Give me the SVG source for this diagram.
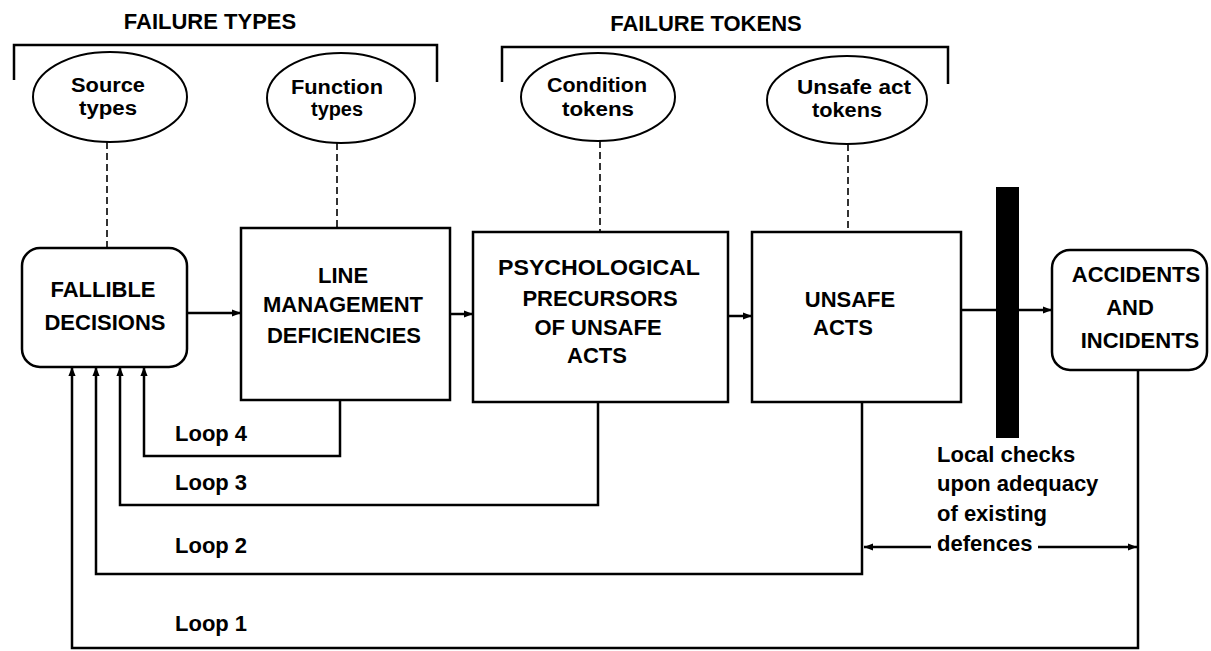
<svg xmlns="http://www.w3.org/2000/svg" width="1211" height="651" viewBox="0 0 1211 651">
  <style>
    .box { fill: #fff; stroke: #000; stroke-width: 2.5; }
    .oval { fill: #fff; stroke: #000; stroke-width: 2; }
    .lbl { font-family: "Liberation Sans", Arial, Helvetica, sans-serif; font-weight: bold; font-size: 22px; fill: #000; }
    .small { font-size: 20px; }
    .mid { text-anchor: middle; }
    .wire { fill: none; stroke: #000; stroke-width: 2.5; }
    .tie { fill: none; stroke: #333; stroke-width: 2; stroke-dasharray: 7 4; }
    .brace { fill: none; stroke: #000; stroke-width: 2.5; }
  </style>
  <defs>
    <marker id="ah" viewBox="0 0 10 10" refX="10" refY="5" markerWidth="9" markerHeight="9" markerUnits="userSpaceOnUse" orient="auto">
      <path d="M0,1 L10,5 L0,9 z" fill="#000"/>
    </marker>
  </defs>
  <rect width="1211" height="651" fill="#fff"/>

  <!-- category brackets with their headings -->
  <g id="failure-types">
    <text class="lbl mid" x="210" y="29">FAILURE TYPES</text>
    <path class="brace" d="M14,80 V45 H437 V82"/>
  </g>
  <g id="failure-tokens">
    <text class="lbl mid" x="706" y="31">FAILURE TOKENS</text>
    <path class="brace" d="M502,82 V47 H948 V84"/>
  </g>

  <!-- connectors -->
  <g id="connectors">
    <!-- dashed ties from the type/token ovals to the stages -->
    <path class="tie" d="M107,142 V248"/>
    <path class="tie" d="M337,143 V228"/>
    <path class="tie" d="M600,141 V232"/>
    <path class="tie" d="M848,144 V232"/>
    <!-- main chain -->
    <path class="wire" d="M187,313 H241" marker-end="url(#ah)"/>
    <path class="wire" d="M450,314 H473" marker-end="url(#ah)"/>
    <path class="wire" d="M728,316 H752" marker-end="url(#ah)"/>
    <path class="wire" d="M961,310 H1052" marker-end="url(#ah)"/>
    <!-- feedback loops back to fallible decisions -->
    <path class="wire" d="M340,400 V456 H144 V367" marker-end="url(#ah)"/>
    <path class="wire" d="M598,402 V505 H120 V367" marker-end="url(#ah)"/>
    <path class="wire" d="M862,402 V574 H96 V367" marker-end="url(#ah)"/>
    <path class="wire" d="M1138,370 V648 H72 V367" marker-end="url(#ah)"/>
    <!-- local checks span -->
    <path class="wire" d="M931,547 H864" marker-end="url(#ah)"/>
    <path class="wire" d="M1038,547 H1137" marker-end="url(#ah)"/>
  </g>

  <!-- loop labels -->
  <g id="loop-labels">
    <text class="lbl" x="175" y="441">Loop 4</text>
    <text class="lbl" x="175" y="490">Loop 3</text>
    <text class="lbl" x="175" y="553">Loop 2</text>
    <text class="lbl" x="175" y="631">Loop 1</text>
  </g>

  <!-- type and token ovals -->
  <g id="source-types">
    <ellipse class="oval" cx="110" cy="97" rx="77" ry="45"/>
    <text class="lbl small mid" x="108" y="92" textLength="74" lengthAdjust="spacingAndGlyphs">Source</text>
    <text class="lbl small mid" x="108" y="115" textLength="58" lengthAdjust="spacingAndGlyphs">types</text>
  </g>
  <g id="function-types">
    <ellipse class="oval" cx="341" cy="98" rx="74" ry="45"/>
    <text class="lbl small mid" x="337" y="94" textLength="92" lengthAdjust="spacingAndGlyphs">Function</text>
    <text class="lbl small mid" x="337" y="116" textLength="52" lengthAdjust="spacingAndGlyphs">types</text>
  </g>
  <g id="condition-tokens">
    <ellipse class="oval" cx="598" cy="97" rx="77" ry="44"/>
    <text class="lbl small mid" x="597" y="92" textLength="100" lengthAdjust="spacingAndGlyphs">Condition</text>
    <text class="lbl small mid" x="598" y="116" textLength="72" lengthAdjust="spacingAndGlyphs">tokens</text>
  </g>
  <g id="unsafe-act-tokens">
    <ellipse class="oval" cx="847" cy="100" rx="80" ry="44"/>
    <text class="lbl small mid" x="854" y="94" textLength="114" lengthAdjust="spacingAndGlyphs">Unsafe act</text>
    <text class="lbl small mid" x="847" y="117" textLength="70" lengthAdjust="spacingAndGlyphs">tokens</text>
  </g>

  <!-- stages -->
  <g id="fallible-decisions">
    <rect class="box" x="22" y="248" width="165" height="119" rx="18"/>
    <text class="lbl mid" x="103" y="297">FALLIBLE</text>
    <text class="lbl mid" x="105" y="330">DECISIONS</text>
  </g>
  <g id="line-management">
    <rect class="box" x="241" y="228" width="209" height="172"/>
    <text class="lbl mid" x="343" y="283">LINE</text>
    <text class="lbl mid" x="343" y="312">MANAGEMENT</text>
    <text class="lbl mid" x="344" y="343">DEFICIENCIES</text>
  </g>
  <g id="psychological-precursors">
    <rect class="box" x="473" y="232" width="255" height="170"/>
    <text class="lbl mid" x="599" y="275" textLength="202" lengthAdjust="spacingAndGlyphs">PSYCHOLOGICAL</text>
    <text class="lbl mid" x="600" y="306">PRECURSORS</text>
    <text class="lbl mid" x="598" y="335">OF UNSAFE</text>
    <text class="lbl mid" x="597" y="363">ACTS</text>
  </g>
  <g id="unsafe-acts">
    <rect class="box" x="752" y="232" width="209" height="170"/>
    <text class="lbl mid" x="850" y="307">UNSAFE</text>
    <text class="lbl mid" x="843" y="335">ACTS</text>
  </g>
  <g id="accidents-incidents">
    <rect class="box" x="1052" y="250" width="155" height="120" rx="18"/>
    <text class="lbl mid" x="1136" y="282">ACCIDENTS</text>
    <text class="lbl mid" x="1130" y="315">AND</text>
    <text class="lbl mid" x="1140" y="348">INCIDENTS</text>
  </g>

  <!-- defence barrier -->
  <g id="defences">
    <rect x="996" y="187" width="23" height="251" fill="#000"/>
    <text class="lbl" x="937" y="462">Local checks</text>
    <text class="lbl" x="937" y="491">upon adequacy</text>
    <text class="lbl" x="937" y="521">of existing</text>
    <text class="lbl" x="937" y="551">defences</text>
  </g>
</svg>
